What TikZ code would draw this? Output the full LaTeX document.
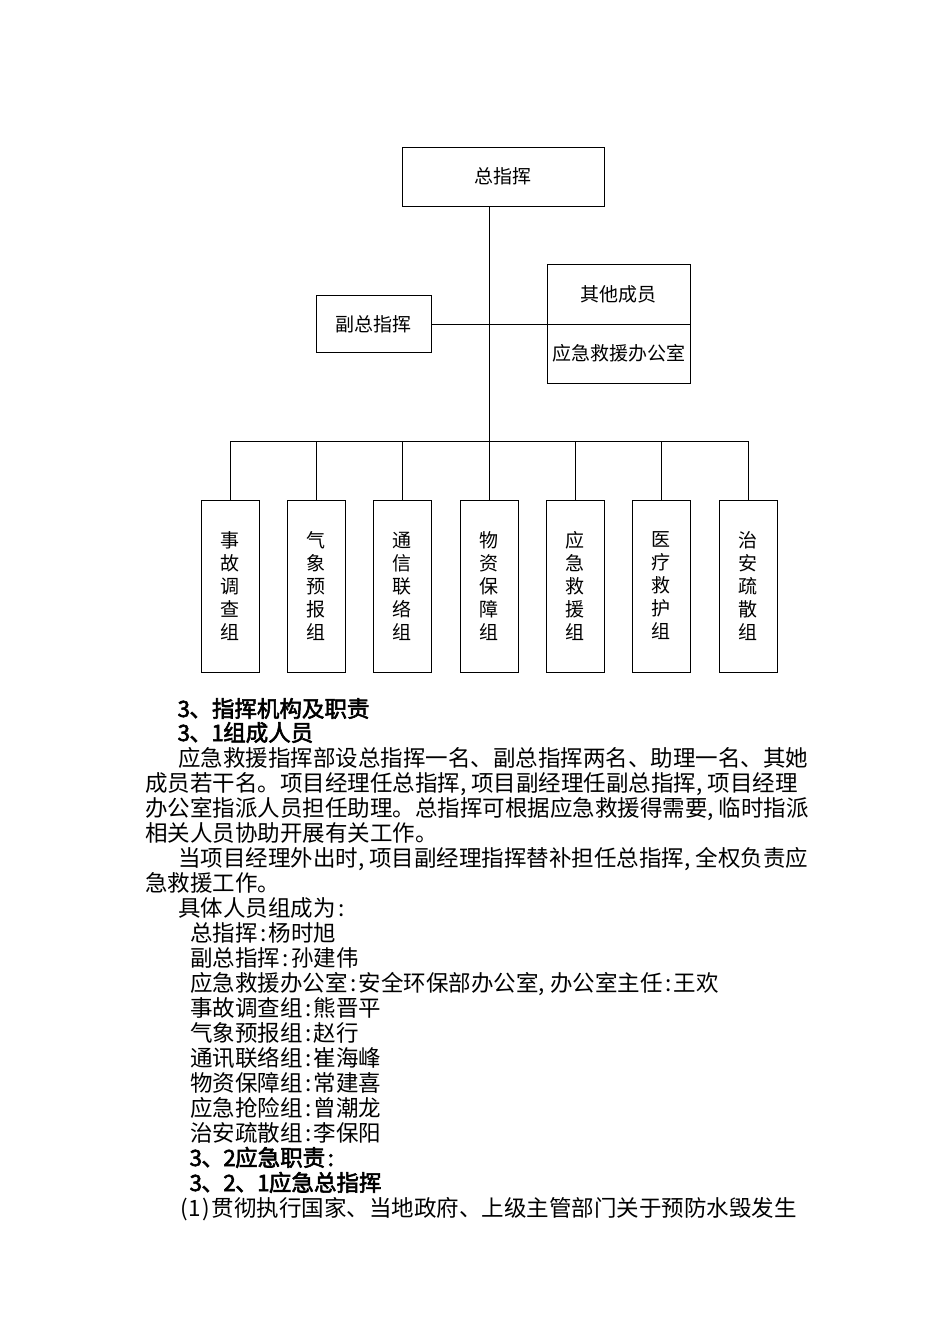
\documentclass[tikz,border=0pt]{standalone}
\usepackage{fontspec}
\newfontfamily\cjk[AutoFakeBold=2.5]{Noto Sans CJK SC}
\newcommand{\hwc}{\makebox[0.5em][l]{,}}
\newcommand{\hwk}{\makebox[0.5em][c]{:}}
\newcommand{\hwd}[1]{\makebox[0.5em][c]{#1}}
\begin{document}
\begin{tikzpicture}[x=1pt,y=-1pt,
  box/.style={draw=black,line width=0.9pt,inner sep=0pt,font=\cjk\fontsize{19}{23}\selectfont,align=center},
  col/.style={box,minimum width=58pt,minimum height=172pt},
  conn/.style={draw=black,line width=0.9pt},
  txt/.style={anchor=base west,inner sep=0pt,font=\cjk\fontsize{22.5}{25}\selectfont},
  btxt/.style={txt,font=\cjk\bfseries\fontsize{22.5}{25}\selectfont}]
\useasboundingbox (0,0) rectangle (950,1344);
\fill[white] (0,0) rectangle (950,1344);
% boxes
\node[box,minimum width=202pt,minimum height=59pt] (zong) at (503,176.5) {总指挥};
\node[box,minimum width=115pt,minimum height=57pt] (fu) at (373.5,324) {副总指挥};
\node[box,minimum width=143pt,minimum height=60pt] (qita) at (618.5,294) {其他成员};
\node[box,minimum width=143pt,minimum height=59pt] (ban) at (618.5,353.5) {应急救援办公室};
\foreach \i/\x/\t in {1/230/{事\\故\\调\\查\\组},2/316/{气\\象\\预\\报\\组},3/402/{通\\信\\联\\络\\组},4/489/{物\\资\\保\\障\\组},5/575/{应\\急\\救\\援\\组},6/661/{医\\疗\\救\\护\\组},7/748/{治\\安\\疏\\散\\组}}{
  \node[col] (g\i) at (\x,586) {\t};
}
% connectors
\coordinate (bus) at (489,441);
\draw[conn] (bus |- zong.south) -- (bus);
\draw[conn] (fu.east) -- (fu.east -| qita.south west);
\foreach \i in {1,...,7}{\draw[conn] (bus) -| (g\i.north);}
% text
\node[btxt] (t1) at (178,717) {\hwd{3}、指挥机构及职责};
\node[btxt] (t2) at (178,741) {\hwd{3}、\hwd{1}组成人员};
\node[txt] (t3) at (178,766) {应急救援指挥部设总指挥一名、副总指挥两名、助理一名、其她};
\node[txt] (t4) at (145,791) {成员若干名。项目经理任总指挥\hwc 项目副经理任副总指挥\hwc 项目经理};
\node[txt] (t5) at (145,816) {办公室指派人员担任助理。总指挥可根据应急救援得需要\hwc 临时指派};
\node[txt] (t6) at (145,841) {相关人员协助开展有关工作。};
\node[txt] (t7) at (178,866) {当项目经理外出时\hwc 项目副经理指挥替补担任总指挥\hwc 全权负责应};
\node[txt] (t8) at (145,891) {急救援工作。};
\node[txt] (t9) at (178,916) {具体人员组成为\hwk};
\node[txt] (t10) at (190,941) {总指挥\hwk 杨时旭};
\node[txt] (t11) at (190,966) {副总指挥\hwk 孙建伟};
\node[txt] (t12) at (190,991) {应急救援办公室\hwk 安全环保部办公室\hwc 办公室主任\hwk 王欢};
\node[txt] (t13) at (190,1016) {事故调查组\hwk 熊晋平};
\node[txt] (t14) at (190,1041) {气象预报组\hwk 赵行};
\node[txt] (t15) at (190,1066) {通讯联络组\hwk 崔海峰};
\node[txt] (t16) at (190,1091) {物资保障组\hwk 常建喜};
\node[txt] (t17) at (190,1116) {应急抢险组\hwk 曾潮龙};
\node[txt] (t18) at (190,1141) {治安疏散组\hwk 李保阳};
\node[btxt] (t19) at (190,1166) {\hwd{3}、\hwd{2}应急职责\hwk};
\node[btxt] (t20) at (190,1191) {\hwd{3}、\hwd{2}、\hwd{1}应急总指挥};
\node[txt] (t21) at (178,1216) {\hwd{(}\hwd{1}\hwd{)}贯彻执行国家、当地政府、上级主管部门关于预防水毁发生};
\end{tikzpicture}
\end{document}
